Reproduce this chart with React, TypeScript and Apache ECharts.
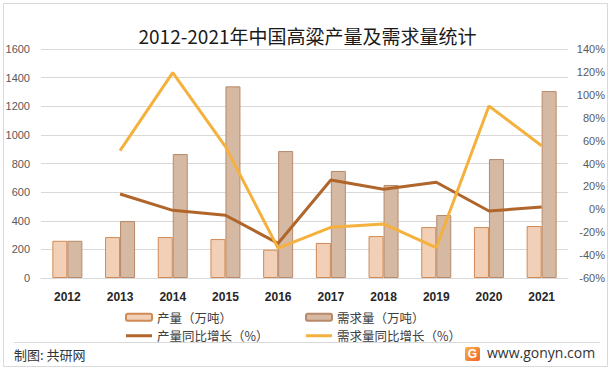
import React, { useEffect, useRef } from "react";
import * as echarts from "echarts";

const years = ["2012", "2013", "2014", "2015", "2016", "2017", "2018", "2019", "2020", "2021"];
const production = [260, 286, 286, 272, 198, 245, 293, 356, 356, 363];
const demand = [260, 398, 866, 1339, 887, 748, 650, 440, 831, 1306];
const productionGrowth = [null, 13.4, -0.9, -5.2, -29.7, 25.6, 17.5, 23.6, -1.5, 2.0];
const demandGrowth = [null, 51.2, 119.3, 54.7, -34, -15.7, -12.8, -33.5, 90.2, 55.5];

const FONT = "'Noto Sans CJK SC', 'Noto Sans', sans-serif";
const LINE_ICON = "path://M0 0H26V3H0Z";

export default function App() {
  const ref = useRef<HTMLDivElement>(null);
  useEffect(() => {
    document.body.style.margin = "0";
    if (!ref.current) return;
    const chart = echarts.init(ref.current, null, { renderer: "svg" });
    const legendText = { fontSize: 12.5, color: "#404040", fontFamily: FONT };
    chart.setOption({
      animation: false,
      backgroundColor: "#ffffff",
      title: {
        text: "2012-2021年中国高粱产量及需求量统计",
        left: "center",
        top: 21,
        textStyle: { fontSize: 19, fontWeight: "normal", color: "#1a1a1a", fontFamily: FONT },
      },
      grid: { left: 41, right: 47, top: 49, bottom: 94 },
      legend: [
        {
          orient: "vertical",
          left: 120,
          top: 306,
          itemWidth: 26,
          itemHeight: 7,
          itemGap: 6,
          textStyle: legendText,
          data: ["产量（万吨）", { name: "产量同比增长（%）", icon: LINE_ICON }],
        },
        {
          orient: "vertical",
          left: 300,
          top: 306,
          itemWidth: 26,
          itemHeight: 7,
          itemGap: 6,
          textStyle: legendText,
          data: ["需求量（万吨）", { name: "需求量同比增长（%）", icon: LINE_ICON }],
        },
      ],
      xAxis: {
        type: "category",
        data: years,
        axisTick: { show: false },
        axisLine: { lineStyle: { color: "#d9d9d9" } },
        axisLabel: { fontSize: 12, fontWeight: "bold", color: "#262626", margin: 13, fontFamily: "'Liberation Sans', sans-serif" },
      },
      yAxis: [
        {
          type: "value",
          min: 0,
          max: 1600,
          interval: 200,
          axisLine: { show: false },
          axisTick: { show: false },
          splitLine: { lineStyle: { color: "#d9d9d9" } },
          axisLabel: {
            fontSize: 11,
            color: "#595959",
            margin: 11,
            formatter: (v: number) => String(v),
            fontFamily: "'Liberation Sans', sans-serif",
          },
        },
        {
          type: "value",
          min: -60,
          max: 140,
          interval: 20,
          position: "right",
          axisLine: { show: false },
          axisTick: { show: false },
          splitLine: { show: false },
          axisLabel: {
            fontSize: 11,
            color: "#595959",
            margin: 37,
            align: "right",
            formatter: (v: number) => v + "%",
            fontFamily: "'Liberation Sans', sans-serif",
          },
        },
      ],
      series: [
        {
          name: "产量（万吨）",
          type: "bar",
          data: production,
          barWidth: 15,
          barGap: "0%",
          itemStyle: { color: "#f1d0b7", borderColor: "#d08a55", borderWidth: 1 },
        },
        {
          name: "需求量（万吨）",
          type: "bar",
          data: demand,
          barWidth: 15,
          barGap: "0%",
          itemStyle: { color: "#d6b9a2", borderColor: "#b8896a", borderWidth: 1 },
        },
        {
          name: "产量同比增长（%）",
          type: "line",
          yAxisIndex: 1,
          data: productionGrowth,
          symbol: "none",
          lineStyle: { color: "#b0652b", width: 3 },
          itemStyle: { color: "#b0652b" },
        },
        {
          name: "需求量同比增长（%）",
          type: "line",
          yAxisIndex: 1,
          data: demandGrowth,
          symbol: "none",
          lineStyle: { color: "#f5b13d", width: 3 },
          itemStyle: { color: "#f5b13d" },
        },
      ],
      graphic: [
        {
          type: "rect",
          shape: { x: 3.5, y: 3.5, width: 604, height: 363 },
          style: { fill: "none", stroke: "#d9d9d9", lineWidth: 1 },
          silent: true,
        },
        {
          type: "line",
          shape: { x1: 14, y1: 342.5, x2: 600, y2: 342.5 },
          style: { stroke: "#d9d9d9", lineWidth: 1 },
          silent: true,
        },
        {
          type: "text",
          left: 14,
          top: 348,
          style: { text: "制图: 共研网", fontSize: 13, fill: "#333333", fontFamily: FONT },
        },
        {
          type: "rect",
          shape: { x: 465, y: 347, width: 15, height: 14, r: 2 },
          style: {
            fill: new echarts.graphic.LinearGradient(0, 0, 1, 1, [
              { offset: 0, color: "#f9b04a" },
              { offset: 1, color: "#f0642c" },
            ]),
          },
        },
        {
          type: "text",
          x: 472.5,
          y: 354,
          style: {
            text: "G",
            fontSize: 12,
            fontWeight: "bold",
            fill: "#ffffff",
            align: "center",
            verticalAlign: "middle",
            fontFamily: "'Liberation Sans', sans-serif",
          },
        },
        {
          type: "text",
          left: 487,
          top: 345,
          style: { text: "www.gonyn.com", fontSize: 14, fill: "#333333", fontFamily: "'Open Sans', sans-serif" },
        },
      ],
    });
    return () => chart.dispose();
  }, []);
  return <div ref={ref} style={{ width: 615, height: 372 }} />;
}
